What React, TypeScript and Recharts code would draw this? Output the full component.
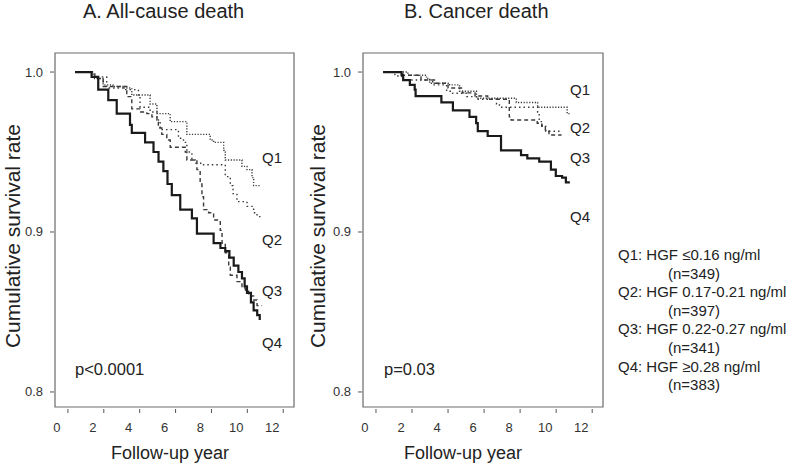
import React from 'react';
import { LineChart, Line, XAxis, YAxis, ReferenceArea } from 'recharts';

const xTicks = [0, 2, 4, 6, 8, 10, 12];
const yTicks = [0.8, 0.9, 1.0];
const xDomain = [-0.72, 12.6];
const yDomain = [0.7906, 1.0119];
const quartiles = ['Q1', 'Q2', 'Q3', 'Q4'];
const legendRanges = ['HGF \u22640.16 ng/ml', 'HGF 0.17-0.21 ng/ml', 'HGF 0.22-0.27 ng/ml', 'HGF \u22650.28 ng/ml'];
const legendCounts = ['(n=349)', '(n=397)', '(n=341)', '(n=383)'];

// [follow-up year, cumulative survival]
const allCauseQ1 = [[0.4, 1.0], [1.41, 0.996], [1.96, 0.992], [2.51, 0.991], [3.07, 0.99], [3.56, 0.9856], [4.58, 0.98], [4.96, 0.974], [5.7, 0.969], [6.63, 0.961], [7.93, 0.9575], [8.12, 0.956], [8.68, 0.951], [8.77, 0.945], [9.7, 0.941], [9.98, 0.939], [10.26, 0.934], [10.35, 0.929], [10.73, 0.929]];
const allCauseQ2 = [[0.4, 1.0], [1.32, 0.997], [2.16, 0.99], [3.09, 0.989], [3.93, 0.9856], [4.02, 0.978], [4.58, 0.975], [4.96, 0.97], [5.14, 0.964], [6.16, 0.9586], [6.44, 0.956], [6.63, 0.95], [6.91, 0.945], [7.09, 0.943], [7.56, 0.942], [8.77, 0.9346], [9.05, 0.929], [9.2, 0.924], [9.42, 0.919], [9.98, 0.916], [10.35, 0.912], [10.54, 0.9096], [10.73, 0.9096]];
const allCauseQ3 = [[0.4, 1.0], [1.5, 0.996], [1.97, 0.991], [3.28, 0.9846], [3.56, 0.977], [4.02, 0.975], [4.4, 0.974], [4.68, 0.972], [4.96, 0.97], [5.04, 0.965], [5.23, 0.961], [5.51, 0.9575], [5.7, 0.953], [6.54, 0.95], [6.63, 0.945], [7.19, 0.939], [7.37, 0.93], [7.47, 0.922], [7.56, 0.914], [7.84, 0.912], [8.12, 0.9075], [8.49, 0.901], [8.59, 0.893], [8.77, 0.887], [8.96, 0.878], [9.05, 0.873], [9.42, 0.869], [9.7, 0.865], [9.89, 0.863], [10.07, 0.86], [10.35, 0.8575], [10.54, 0.854], [10.82, 0.854]];
const allCauseQ4 = [[0.4, 1.0], [1.32, 0.997], [1.69, 0.989], [2.25, 0.9825], [2.72, 0.974], [3.46, 0.967], [3.56, 0.962], [4.3, 0.956], [4.77, 0.95], [5.05, 0.944], [5.32, 0.938], [5.55, 0.93], [5.79, 0.923], [6.26, 0.914], [6.91, 0.9085], [7.19, 0.899], [8.12, 0.893], [8.5, 0.89], [8.77, 0.888], [9.0, 0.884], [9.24, 0.879], [9.5, 0.875], [9.7, 0.871], [9.85, 0.866], [9.98, 0.862], [10.2, 0.856], [10.35, 0.851], [10.55, 0.848], [10.69, 0.845]];

const cancerQ1 = [[0.4, 1.0], [1.77, 0.998], [2.8, 0.996], [2.98, 0.993], [4.09, 0.992], [4.64, 0.988], [5.58, 0.9836], [7.79, 0.981], [8.97, 0.978], [10.61, 0.974], [10.81, 0.974]];
const cancerQ2 = [[0.4, 1.0], [1.05, 0.9975], [1.44, 0.995], [3.15, 0.992], [3.92, 0.988], [4.25, 0.9867], [5.03, 0.9846], [5.58, 0.983], [6.69, 0.98], [6.85, 0.978], [8.97, 0.975], [9.06, 0.969], [9.23, 0.966], [9.43, 0.963], [10.26, 0.963]];
const cancerQ3 = [[0.4, 1.0], [1.5, 0.998], [2.5, 0.995], [3.3, 0.993], [4.0, 0.99], [4.8, 0.987], [5.5, 0.985], [6.2, 0.983], [7.4, 0.972], [7.5, 0.97], [8.95, 0.968], [9.2, 0.966], [9.4, 0.963], [9.6, 0.9606], [10.3, 0.9606]];
const cancerQ4 = [[0.4, 1.0], [1.42, 0.998], [1.51, 0.995], [1.88, 0.992], [2.15, 0.989], [2.2, 0.985], [3.63, 0.981], [4.27, 0.976], [5.19, 0.972], [5.56, 0.968], [5.65, 0.963], [6.2, 0.96], [6.94, 0.951], [8.05, 0.948], [8.4, 0.946], [9.06, 0.944], [9.71, 0.939], [9.98, 0.935], [10.33, 0.934], [10.54, 0.931], [10.76, 0.931]];

const toRows = (pairs: number[][]) => pairs.map(([t, s]) => ({ t, s }));

const lineStyles = [
  { stroke: '#3a3a3a', strokeWidth: 1.4, dash: '1.2 1.6' },
  { stroke: '#3a3a3a', strokeWidth: 1.4, dash: '1.5 3' },
  { stroke: '#3a3a3a', strokeWidth: 1.4, dash: '4 3' },
  { stroke: '#1a1a1a', strokeWidth: 2.2, dash: undefined },
];

const FONT = '"Liberation Sans", Arial, Helvetica, sans-serif';

const XTick = (props: any) => {
  const { x, y, payload } = props;
  return (
    <g>
      <line x1={x} x2={x} y1={y + 2} y2={y + 6} stroke="#555" strokeWidth={1} />
      <text x={x - 11} y={y + 25} textAnchor="middle" fontSize={13} fill="#333" fontFamily={FONT}>
        {payload.value}
      </text>
    </g>
  );
};

const YTick = (props: any) => {
  const { x, y, payload } = props;
  return (
    <g>
      <line x1={x - 5} x2={x - 1} y1={y} y2={y} stroke="#555" strokeWidth={1} />
      <text x={x - 12} y={y + 4.5} textAnchor="end" fontSize={13} fill="#333" fontFamily={FONT}>
        {Number(payload.value).toFixed(1)}
      </text>
    </g>
  );
};

const Panel = ({ series, width, yAxisWidth, rightMargin }: any) => (
  <LineChart width={width} height={466} margin={{ top: 53, right: rightMargin, bottom: 0, left: 0 }}>
    <XAxis
      type="number"
      dataKey="t"
      domain={xDomain}
      ticks={xTicks}
      allowDataOverflow
      axisLine={false}
      tickLine={false}
      tickSize={0}
      tickMargin={0}
      height={59}
      tick={<XTick />}
      interval={0}
    />
    <YAxis
      type="number"
      dataKey="s"
      domain={yDomain}
      ticks={yTicks}
      allowDataOverflow
      axisLine={false}
      tickLine={false}
      tickSize={0}
      tickMargin={0}
      width={yAxisWidth}
      tick={<YTick />}
      interval={0}
    />
    <ReferenceArea
      x1={xDomain[0]}
      x2={xDomain[1]}
      y1={yDomain[0]}
      y2={yDomain[1]}
      fill="none"
      stroke="#6a6a6a"
      strokeWidth={1.2}
      ifOverflow="visible"
    />
    {series.map((d: number[][], i: number) => (
      <Line
        key={quartiles[i]}
        data={toRows(d)}
        dataKey="s"
        type="stepAfter"
        dot={false}
        activeDot={false}
        isAnimationActive={false}
        stroke={lineStyles[i].stroke}
        strokeWidth={lineStyles[i].strokeWidth}
        strokeDasharray={lineStyles[i].dash}
      />
    ))}
  </LineChart>
);

const leftLabelY = [163, 245, 296, 348];
const rightLabelY = [95, 133, 163, 222];

export default function App() {
  return (
    <div style={{ position: 'absolute', left: 0, top: 0, width: 789, height: 466, background: '#fff', fontFamily: FONT }}>
      <div style={{ position: 'absolute', left: 0, top: 0 }}>
        <Panel series={[allCauseQ1, allCauseQ2, allCauseQ3, allCauseQ4]} width={300} yAxisWidth={55} rightMargin={6} />
      </div>
      <div style={{ position: 'absolute', left: 300, top: 0 }}>
        <Panel series={[cancerQ1, cancerQ2, cancerQ3, cancerQ4]} width={320} yAxisWidth={63} rightMargin={17} />
      </div>
      <svg width={789} height={466} style={{ position: 'absolute', left: 0, top: 0, pointerEvents: 'none' }} fontFamily={FONT} fill="#222">
        <text x={83} y={18} fontSize={20}>A. All-cause death</text>
        <text x={404} y={18} fontSize={20}>B. Cancer death</text>
        <text transform="translate(20,236) rotate(-90)" textAnchor="middle" fontSize={21}>Cumulative survival rate</text>
        <text transform="translate(325,236) rotate(-90)" textAnchor="middle" fontSize={21}>Cumulative survival rate</text>
        <text x={170} y={459} textAnchor="middle" fontSize={18}>Follow-up year</text>
        <text x={463} y={459} textAnchor="middle" fontSize={18}>Follow-up year</text>
        <text x={75} y={375} fontSize={16.5}>p&lt;0.0001</text>
        <text x={384} y={375} fontSize={16.5}>p=0.03</text>
        {quartiles.map((q, i) => (
          <text key={'l' + q} x={262} y={leftLabelY[i]} fontSize={15}>{q}</text>
        ))}
        {quartiles.map((q, i) => (
          <text key={'r' + q} x={570} y={rightLabelY[i]} fontSize={15}>{q}</text>
        ))}
        {quartiles.map((q, i) => (
          <g key={'g' + q}>
            <text x={618} y={260 + i * 37.2} fontSize={15}>{q + ': ' + legendRanges[i]}</text>
            <text x={668} y={260 + i * 37.2 + 18.6} fontSize={15}>{legendCounts[i]}</text>
          </g>
        ))}
      </svg>
    </div>
  );
}
